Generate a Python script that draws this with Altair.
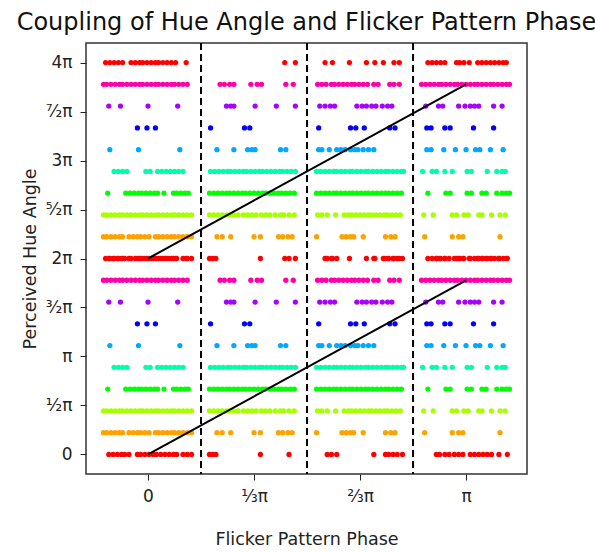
import altair as alt
import pandas as pd

# Hue levels (in units of pi) for the 10 quantised hue classes 0..9
hue_levels_pi = [0.0, 0.2222, 0.4444, 0.6667, 0.8889, 1.1111, 1.3333, 1.5556, 1.7778, 2.0]
hue_colors = ["#ff0000", "#ffa200", "#a8ff00", "#00ff00", "#00ffa8", "#00a8ff",
              "#0000ff", "#a800ff", "#ff00a8", "#ff0000"]

# Flicker phase of each sample, in units of pi/3, per hue class
phase_h0 = [-0.37, -0.33, -0.29, -0.25, -0.22, -0.18, -0.10, -0.07, -0.03, 0.01, 0.05, 0.08,
            0.12, 0.16, 0.20, 0.24, 0.27, 0.33, 0.37, 0.41,
            0.58, 0.61, 0.64, 1.06, 1.33,
            1.69, 1.73, 1.78, 2.13, 2.24, 2.27, 2.31, 2.35, 2.40,
            2.72, 2.75, 2.80, 2.84, 2.89, 2.93, 2.97, 3.04, 3.08, 3.12, 3.16, 3.20, 3.24, 3.31, 3.39]
phase_h1 = [-0.42, -0.39, -0.35, -0.31, -0.27, -0.24, -0.18, -0.14, -0.10, -0.07, -0.03, 0.01,
            0.07, 0.10, 0.14, 0.18, 0.22, 0.25, 0.29, 0.33, 0.37, 0.41,
            0.65, 0.70, 0.78, 1.00, 1.06, 1.23, 1.27, 1.32, 1.36,
            1.59, 1.83, 1.87, 1.91, 1.94, 2.03, 2.24, 2.29, 2.33,
            2.61, 2.87, 2.93, 2.97, 3.32]
phase_h2 = [-0.42, -0.39, -0.35, -0.31, -0.27, -0.24, -0.20, -0.16, -0.12, -0.08, -0.05, -0.01,
            0.03, 0.07, 0.10, 0.14, 0.18, 0.22, 0.25, 0.29, 0.33, 0.37, 0.41,
            0.58, 0.62, 0.66, 0.70, 0.74, 0.77, 0.81, 0.85, 0.90, 0.94, 0.98, 1.02, 1.07, 1.11,
            1.15, 1.20, 1.25, 1.28, 1.33, 1.38,
            1.60, 1.64, 1.69, 1.77, 1.85, 1.89, 1.92, 1.96, 2.00, 2.04, 2.08, 2.11, 2.15, 2.19,
            2.23, 2.26, 2.30, 2.34, 2.38,
            2.60, 2.69, 2.87, 2.91, 2.98, 3.02, 3.12, 3.15, 3.24, 3.32, 3.37]
phase_h3 = [-0.38, -0.21, -0.17, -0.13, -0.09, -0.06, -0.02, 0.02, 0.06, 0.09, 0.15,
            0.24, 0.27, 0.31, 0.35, 0.38,
            0.58, 0.62, 0.66, 0.70, 0.74, 0.77, 0.81, 0.85, 0.89, 0.92, 0.96, 1.00, 1.04, 1.08,
            1.11, 1.15, 1.19, 1.23, 1.26, 1.30, 1.34, 1.38,
            1.59, 1.63, 1.67, 1.71, 1.75, 1.78, 1.82, 1.86, 1.90, 1.93, 1.97, 2.01, 2.05, 2.08,
            2.12, 2.16, 2.20, 2.24, 2.27, 2.31, 2.35, 2.39,
            2.64, 2.81, 2.85, 3.01, 3.05, 3.15, 3.19, 3.29, 3.34, 3.38, 3.41]
phase_h4 = [-0.32, -0.28, -0.24, -0.20, -0.02, 0.02, 0.09, 0.13, 0.17, 0.21, 0.25, 0.29, 0.33,
            0.59, 0.63, 0.67, 0.71, 0.75, 0.78, 0.82, 0.86, 0.90, 0.93, 0.97, 1.01, 1.05, 1.08,
            1.12, 1.16, 1.20, 1.24, 1.27, 1.31, 1.35, 1.39,
            1.59, 1.63, 1.67, 1.71, 1.75, 1.78, 1.82, 1.86, 1.90, 1.93, 1.97, 2.01, 2.05, 2.08,
            2.12, 2.16, 2.20, 2.24, 2.27, 2.31, 2.35, 2.39, 2.41,
            2.59, 2.68, 2.72, 2.80, 2.87, 3.01, 3.05, 3.20, 3.29, 3.34, 3.37]
phase_h5 = [-0.36, -0.09, 0.30,
            0.65, 0.81, 0.94, 0.98, 1.01, 1.25, 1.30,
            1.61, 1.64, 1.71, 1.78, 1.82, 1.86, 1.91, 1.95, 1.98, 2.03, 2.08, 2.13,
            2.63, 2.67, 2.79, 2.90, 3.00, 3.09, 3.13, 3.23, 3.35]
phase_h6 = [-0.10, -0.01, 0.07,
            0.59, 0.91, 0.96,
            1.61, 1.91, 1.96, 2.04, 2.28, 2.33,
            2.63, 2.67, 2.80, 2.85, 3.07, 3.26]
phase_h7 = [-0.37, -0.26, 0.00, 0.28,
            0.74, 0.78, 0.81, 1.01, 1.21, 1.39,
            1.62, 1.67, 1.72, 1.76, 1.97, 2.02, 2.06, 2.11, 2.15, 2.21, 2.26, 2.30,
            2.62, 2.74, 2.78, 2.93, 2.99, 3.04, 3.08, 3.12, 3.26, 3.34]
phase_h8 = [-0.42, -0.39, -0.35, -0.31, -0.27, -0.24, -0.20, -0.16, -0.12, -0.08, -0.05, -0.01,
            0.03, 0.07, 0.10, 0.14, 0.18, 0.22, 0.25, 0.29, 0.33, 0.37,
            0.68, 0.72, 0.77, 0.81, 0.97, 1.03, 1.07, 1.30, 1.37,
            1.60, 1.64, 1.68, 1.73, 1.76, 1.80, 1.84, 1.88, 1.92, 1.95, 1.99, 2.03, 2.07,
            2.13, 2.17, 2.28, 2.32, 2.37,
            2.58, 2.62, 2.66, 2.70, 2.74, 2.77, 2.81, 2.85, 2.89, 2.92, 2.96, 3.00, 3.04, 3.08,
            3.11, 3.15, 3.19, 3.23, 3.26, 3.30, 3.34, 3.38, 3.41]
phase_h9 = [-0.40, -0.36, -0.32, -0.28, -0.24, -0.16, -0.12, -0.08, -0.05, -0.01, 0.03, 0.07,
            0.10, 0.14, 0.18, 0.22, 0.26, 0.36,
            1.29, 1.39,
            1.67, 1.74, 1.90, 2.06, 2.14, 2.22, 2.32, 2.37,
            2.64, 2.68, 2.72, 2.76, 2.80, 2.91, 2.94, 2.98, 3.03, 3.11, 3.15, 3.19, 3.23, 3.27,
            3.31, 3.35, 3.38]
phases = [phase_h0, phase_h1, phase_h2, phase_h3, phase_h4,
          phase_h5, phase_h6, phase_h7, phase_h8, phase_h9]

# Hue shown twice: as-is and shifted up by one full turn (2 pi)
wrap_offsets_pi = [0.0, 2.0]

# Coupling lines (phase in pi/3 units, hue in pi units)
line_phase = [0, 3]
line_hue_a = [0.0, 1.7778]
line_hue_b = [2.0, 3.7778]

# Segment boundaries (pi/3 units)
boundaries = [0.5, 1.5, 2.5]

x_tick_vals = [0, 1, 2, 3]
x_tick_labels = ["0", "⅓π", "⅔π", "π"]
y_tick_vals = [0, 0.5, 1, 1.5, 2, 2.5, 3, 3.5, 4]
y_tick_labels = ["0", "½π", "π", "³⁄₂π", "2π", "⁵⁄₂π", "3π", "⁷⁄₂π", "4π"]

rows = []
for off in wrap_offsets_pi:
    for k, ph in enumerate(phases):
        for p in ph:
            rows.append({"phase": p, "hue": hue_levels_pi[k] + off, "cls": k})
pts = pd.DataFrame(rows)

lines = pd.DataFrame(
    [{"phase": line_phase[i], "hue": line_hue_a[i], "g": "a"} for i in range(2)]
    + [{"phase": line_phase[i], "hue": line_hue_b[i], "g": "b"} for i in range(2)]
)
bnd = pd.DataFrame({"b": boundaries})

x_scale = alt.Scale(domain=[-0.585, 3.575], nice=False, zero=False)
y_scale = alt.Scale(domain=[-0.2, 4.2], nice=False, zero=False)

x_lab_expr = "[" + ",".join("'%s'" % s for s in x_tick_labels) + "][round(datum.value)]"
y_lab_expr = "[" + ",".join("'%s'" % s for s in y_tick_labels) + "][round(datum.value*2)]"

x_axis = alt.Axis(values=x_tick_vals, labelExpr=x_lab_expr, title="Flicker Pattern Phase",
                  grid=False, domain=False, tickSize=6, tickColor="#222", labelPadding=8,
                  labelFontSize=17, labelColor="#222", titleFontSize=17.5, titleColor="#222",
                  titleFontWeight="normal", titlePadding=26, labelFont="DejaVu Sans",
                  titleFont="DejaVu Sans")
y_axis = alt.Axis(values=y_tick_vals, labelExpr=y_lab_expr, title="Perceived Hue Angle",
                  grid=False, domain=False, tickSize=6, tickColor="#222", labelPadding=8,
                  labelFontSize=17, labelColor="#222", titleFontSize=17.5, titleColor="#222",
                  titleFontWeight="normal", titlePadding=6, labelFont="DejaVu Sans",
                  titleFont="DejaVu Sans")

points = alt.Chart(pts).mark_circle(size=28, opacity=1).encode(
    x=alt.X("phase:Q", scale=x_scale, axis=x_axis),
    y=alt.Y("hue:Q", scale=y_scale, axis=y_axis),
    color=alt.Color("cls:O", scale=alt.Scale(domain=list(range(10)), range=hue_colors), legend=None),
)

rules = alt.Chart(bnd).mark_rule(color="black", strokeWidth=2, strokeDash=[7, 4]).encode(
    x=alt.X("b:Q", scale=x_scale)
)

coupling = alt.Chart(lines).mark_line(color="black", strokeWidth=2).encode(
    x=alt.X("phase:Q", scale=x_scale),
    y=alt.Y("hue:Q", scale=y_scale),
    detail="g:N",
)

chart = alt.layer(points, rules, coupling).properties(
    width=441,
    height=431,
    title=alt.TitleParams("Coupling of Hue Angle and Flicker Pattern Phase", fontSize=24,
                          font="DejaVu Sans", fontWeight="normal", color="#111", offset=7),
    autosize=alt.AutoSizeParams(type="none"),
    padding={"left": 86, "top": 43, "right": 68, "bottom": 79},
).configure(background="white").configure_view(stroke="#333", strokeWidth=1.5)

chart.save("out.html", embed_options={"renderer": "svg", "actions": False})
